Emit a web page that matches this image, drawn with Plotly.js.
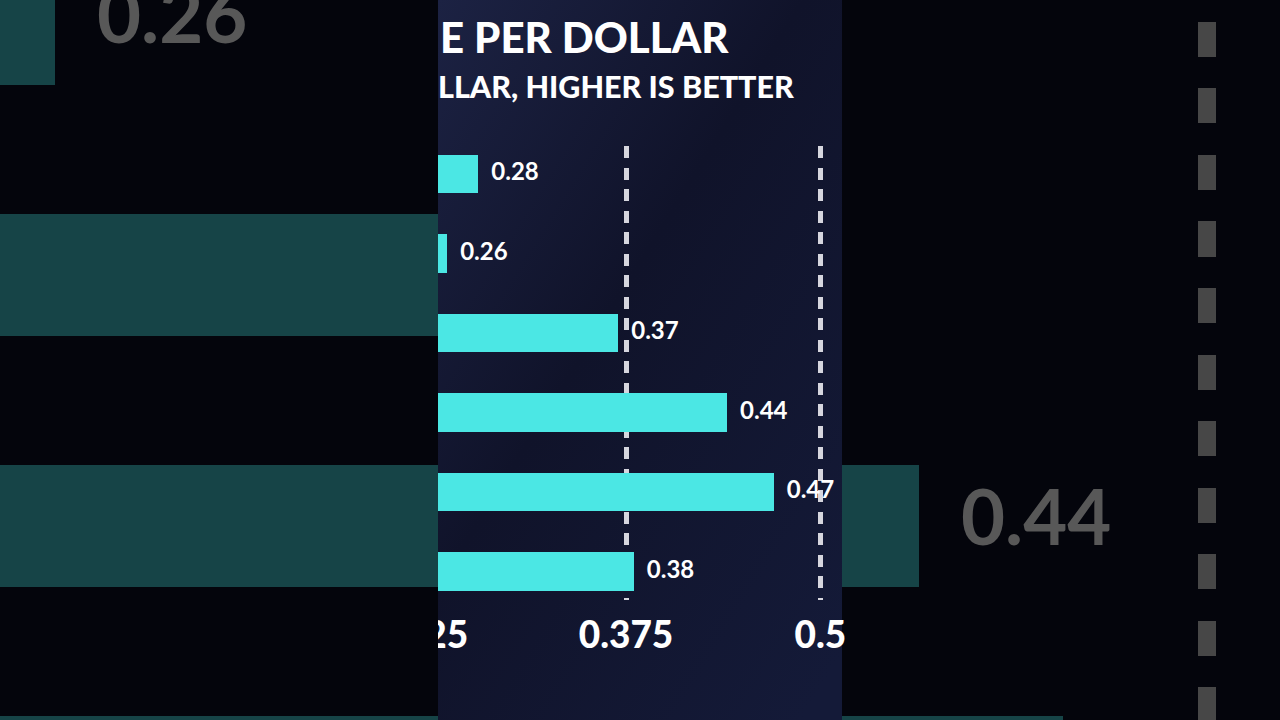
<!DOCTYPE html>
<html>
<head>
<meta charset="utf-8">
<script src="https://cdn.plot.ly/plotly-3.0.1.min.js"></script>
<style>
  html, body { margin: 0; padding: 0; background: #04050c; overflow: hidden; }
  #chart { width: 1280px; height: 720px; }
</style>
</head>
<body>
<div id="chart"></div>
<script>
// Value-per-dollar figures, one bar per card, top to bottom
const rank = [0, 1, 2, 3, 4, 5];
const perfPerDollar = [0.28, 0.26, 0.37, 0.44, 0.47, 0.38];
const valueText = ['0.28', '0.26', '0.37', '0.44', '0.47', '0.38'];
const xTickVals = [0.25, 0.375, 0.5];
const xTickText = ['0.25', '0.375', '0.5'];
const titleText = 'E PER DOLLAR';
const subtitleText = 'LLAR, HIGHER IS BETTER';

const W = 1280, H = 720;
const FONT = 'Lato, "Open Sans", sans-serif';
const HEAVY = '"Lato Black", "Lato Heavy", Lato, sans-serif';

// ---- geometry of the sharp centre panel ----
const panelLeft = 438, panelRight = 842;
const cScale = 1555, cRef = 0.375, cRefPx = 626;        // px per unit, anchor
const cDomPx = [400, panelRight];
const cRange = cDomPx.map(p => cRef + (p - cRefPx) / cScale);
const cRowPx = 174, cRowStep = 79.5;                      // first row centre, row spacing
const cTopPx = 146, cBotPx = 600;
const cYRange = [(cBotPx - cRowPx) / cRowStep, (cTopPx - cRowPx) / cRowStep];

// ---- geometry of the enlarged, dimmed backdrop ----
const bScale = 4800, bRef = 0.5, bRefPx = 1207;
const bRowPx = 24, bRowStep = 251;                         // row 1 centre, row spacing
const bYRange = [1 + (H - bRowPx) / bRowStep, 1 - bRowPx / bRowStep];
const leftRange = [0, panelLeft].map(p => bRef + (p - bRefPx) / bScale);
const rightRange = [panelRight, W].map(p => bRef + (p - bRefPx) / bScale);

const BAR = '#4be7e4';
const BAR_DIM = '#164447';
const BG = '#04050c';

// marker size that pushes a text label `gap` px clear of its point
const gapSize = gap => (gap - 1) * 1.6;

const traces = [
  // centre panel
  { type: 'bar', orientation: 'h', x: perfPerDollar, y: rank, width: 0.484,
    marker: { color: BAR, line: { width: 0 } }, xaxis: 'x', yaxis: 'y', hoverinfo: 'skip' },
  { type: 'scatter', mode: 'markers+text', x: perfPerDollar, y: rank, text: valueText,
    textposition: 'middle right', cliponaxis: false,
    marker: { size: gapSize(13), color: 'rgba(0,0,0,0)' },
    textfont: { family: FONT, size: 24, color: '#ffffff', weight: 700 },
    xaxis: 'x', yaxis: 'y', hoverinfo: 'skip' },
  // left backdrop
  { type: 'bar', orientation: 'h', x: perfPerDollar, y: rank, width: 0.486,
    marker: { color: BAR_DIM, line: { width: 0 } }, xaxis: 'x2', yaxis: 'y2', hoverinfo: 'skip' },
  { type: 'scatter', mode: 'markers+text', x: perfPerDollar, y: rank, text: valueText,
    textposition: 'middle right', cliponaxis: true,
    marker: { size: gapSize(42), color: 'rgba(0,0,0,0)' },
    textfont: { family: FONT, size: 76, color: '#585858', weight: 700 },
    xaxis: 'x2', yaxis: 'y2', hoverinfo: 'skip' },
  // right backdrop
  { type: 'bar', orientation: 'h', x: perfPerDollar, y: rank, width: 0.486,
    marker: { color: BAR_DIM, line: { width: 0 } }, xaxis: 'x3', yaxis: 'y3', hoverinfo: 'skip' },
  { type: 'scatter', mode: 'markers+text', x: perfPerDollar, y: rank, text: valueText,
    textposition: 'middle right', cliponaxis: true,
    marker: { size: gapSize(42), color: 'rgba(0,0,0,0)' },
    textfont: { family: FONT, size: 76, color: '#585858', weight: 700 },
    xaxis: 'x3', yaxis: 'y3', hoverinfo: 'skip' }
];

const hiddenY = { showgrid: false, zeroline: false, showticklabels: false, ticks: '', showline: false, fixedrange: true };

const panelSvg =
  "<svg xmlns='http://www.w3.org/2000/svg' width='404' height='720'>" +
  "<defs><linearGradient id='g' x1='0' y1='0' x2='0.9' y2='1'>" +
  "<stop offset='0' stop-color='#1c2243'/><stop offset='0.45' stop-color='#10132a'/>" +
  "<stop offset='1' stop-color='#141a38'/></linearGradient></defs>" +
  "<rect width='404' height='720' fill='url(#g)'/></svg>";

const layout = {
  width: W, height: H,
  margin: { l: 0, r: 0, t: 0, b: 0, pad: 0 },
  paper_bgcolor: BG,
  plot_bgcolor: 'rgba(0,0,0,0)',
  showlegend: false,
  hovermode: false,
  bargap: 0,
  xaxis: {
    domain: [cDomPx[0] / W, cDomPx[1] / W], range: cRange,
    tickmode: 'array', tickvals: xTickVals, ticktext: xTickText,
    showgrid: true, gridcolor: '#d6d6de', gridwidth: 5, griddash: '12px,9.5px',
    zeroline: false, showline: false, ticks: '',
    tickfont: { family: HEAVY, size: 37, color: '#ffffff', weight: 900 },
    ticklabelstandoff: 10, fixedrange: true, anchor: 'y'
  },
  yaxis: Object.assign({ domain: [1 - cBotPx / H, 1 - cTopPx / H], range: cYRange, anchor: 'x' }, hiddenY),
  xaxis2: {
    domain: [0, panelLeft / W], range: leftRange, anchor: 'y2',
    showgrid: false, zeroline: false, showticklabels: false, ticks: '', fixedrange: true
  },
  yaxis2: Object.assign({ domain: [0, 1], range: bYRange, anchor: 'x2' }, hiddenY),
  xaxis3: {
    domain: [panelRight / W, 1], range: rightRange, anchor: 'y3',
    tickmode: 'array', tickvals: xTickVals,
    showgrid: true, gridcolor: '#474747', gridwidth: 18, griddash: '0px,22px,35px,9.5px',
    zeroline: false, showticklabels: false, ticks: '', fixedrange: true
  },
  yaxis3: Object.assign({ domain: [0, 1], range: bYRange, anchor: 'x3' }, hiddenY),
  images: [{
    source: 'data:image/svg+xml;base64,' + btoa(panelSvg),
    xref: 'paper', yref: 'paper', x: panelLeft / W, y: 1,
    sizex: (panelRight - panelLeft) / W, sizey: 1,
    xanchor: 'left', yanchor: 'top', sizing: 'stretch', layer: 'below'
  }],
  shapes: [{
    // backdrop fill for the left strip, covers anything spilling past the panel edge
    type: 'rect', xref: 'x2', yref: 'y2', layer: 'below',
    x0: leftRange[0], x1: leftRange[1], y0: bYRange[0], y1: bYRange[1],
    fillcolor: BG, line: { width: 0 }
  }],
  annotations: [
    { text: titleText, xref: 'paper', yref: 'paper', x: panelLeft / W, y: 1 - 37 / H,
      xanchor: 'left', yanchor: 'middle', showarrow: false,
      font: { family: HEAVY, size: 42, color: '#ffffff', weight: 900 } },
    { text: subtitleText, xref: 'paper', yref: 'paper', x: (panelLeft - 2) / W, y: 1 - 86 / H,
      xanchor: 'left', yanchor: 'middle', showarrow: false,
      font: { family: HEAVY, size: 30.5, color: '#ffffff', weight: 900 } }
  ]
};

Plotly.newPlot('chart', traces, layout, { staticPlot: true, displayModeBar: false });
</script>
</body>
</html>
